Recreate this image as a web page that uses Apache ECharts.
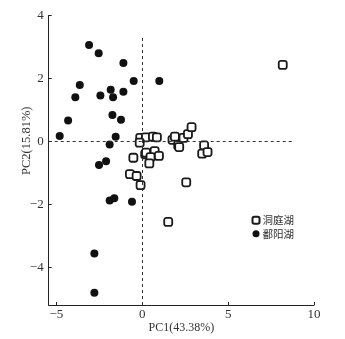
<!DOCTYPE html>
<html>
<head>
<meta charset="utf-8">
<script src="https://cdn.jsdelivr.net/npm/echarts@6/dist/echarts.min.js"></script>
<style>
  html, body { margin: 0; padding: 0; background: #fff; }
  #chart { width: 345px; height: 339px; }
</style>
</head>
<body>
<div id="chart"></div>
<script>
// PCA scores: [PC1, PC2] per sample
const dongtingScores = [
  [8.18, 2.43], [-0.12, 0.11], [0.21, 0.13], [-0.15, -0.04], [0.62, 0.15],
  [0.85, 0.13], [-0.52, -0.52], [0.17, -0.41], [0.22, -0.36], [0.72, -0.31],
  [0.48, -0.50], [0.41, -0.70], [0.97, -0.46], [-0.72, -1.04], [-0.33, -1.10],
  [-0.10, -1.39], [1.76, 0.05], [1.90, 0.15], [2.09, -0.12], [2.15, -0.18],
  [2.40, 0.11], [2.66, 0.23], [2.87, 0.45], [3.60, -0.13], [3.49, -0.39],
  [3.80, -0.34], [2.56, -1.30], [1.51, -2.56]
];
const poyangScores = [
  [-4.81, 0.17], [-4.32, 0.66], [-3.90, 1.40], [-3.64, 1.79], [-3.10, 3.06],
  [-2.54, 2.80], [-2.44, 1.46], [-2.52, -0.75], [-2.11, -0.63], [-1.90, -0.10],
  [-1.84, 1.64], [-1.70, 1.40], [-1.74, 0.84], [-1.55, 0.15], [-1.24, 0.69],
  [-1.10, 2.49], [-1.10, 1.58], [-0.50, 1.92], [0.99, 1.92], [-1.90, -1.88],
  [-1.63, -1.81], [-0.60, -1.92], [-2.79, -3.56], [-2.79, -4.81]
];
const seriesNames = ['洞庭湖', '鄱阳湖'];
const xTicks = [-5, 0, 5, 10];
const yTicks = [-4, -2, 0, 2, 4];
const xRange = [-5.45, 10];
const yRange = [-5.2, 4];
const refLineEnds = { h: 8.8, v: 3.38 };

const serif = 'Liberation Serif';
const minus = v => String(v).replace('-', '\u2212');

const chart = echarts.init(document.getElementById('chart'), null, { renderer: 'canvas' });

const axisCommon = {
  type: 'value',
  axisLine: { show: true, onZero: false, lineStyle: { color: '#222', width: 1 } },
  axisTick: { show: true, inside: true, length: 3, lineStyle: { color: '#222' } },
  splitLine: { show: false },
  nameLocation: 'middle',
  nameMoveOverlap: false,
  nameTextStyle: { fontFamily: serif, fontSize: 12, color: '#333' }
};

chart.setOption({
  animation: false,
  backgroundColor: '#fff',
  grid: { left: 48.7, right: 31, top: 15.5, bottom: 34, containLabel: false },
  xAxis: Object.assign({}, axisCommon, {
    min: xRange[0], max: xRange[1],
    name: 'PC1(43.38%)', nameGap: 17,
    axisTick: Object.assign({}, axisCommon.axisTick, { customValues: xTicks }),
    axisLabel: { customValues: xTicks, formatter: minus, fontFamily: serif, fontSize: 13, color: '#333', margin: 3 }
  }),
  yAxis: Object.assign({}, axisCommon, {
    min: yRange[0], max: yRange[1],
    name: 'PC2(15.81%)', nameGap: 15,
    nameTextStyle: Object.assign({}, axisCommon.nameTextStyle, { fontSize: 12.5, padding: [0, 0, 0, 39] }),
    axisTick: Object.assign({}, axisCommon.axisTick, { customValues: yTicks }),
    axisLabel: { customValues: yTicks, formatter: minus, fontFamily: serif, fontSize: 13, color: '#333', margin: 5 }
  }),
  legend: {
    orient: 'vertical',
    left: 246.5, top: 210,
    itemWidth: 7, itemHeight: 7, itemGap: 3,
    textStyle: { fontFamily: 'Noto Sans CJK SC', fontSize: 10.5, color: '#333', padding: [0, 0, 0, -2] },
    data: seriesNames
  },
  series: [
    {
      name: seriesNames[0],
      type: 'scatter',
      symbol: 'roundRect',
      symbolSize: 8,
      z: 3,
      itemStyle: { color: '#fff', borderColor: '#1a1a1a', borderWidth: 1.8, opacity: 1 },
      data: dongtingScores,
      markLine: {
        silent: true,
        symbol: 'none',
        label: { show: false },
        lineStyle: { color: '#333', type: [3, 3], width: 1 },
        data: [
          [{ coord: [xRange[0], 0] }, { coord: [refLineEnds.h, 0] }],
          [{ coord: [0, yRange[0]] }, { coord: [0, refLineEnds.v] }]
        ]
      }
    },
    {
      name: seriesNames[1],
      type: 'scatter',
      symbol: 'circle',
      symbolSize: 8,
      z: 2,
      itemStyle: { color: '#111', opacity: 1 },
      data: poyangScores
    }
  ]
});
</script>
</body>
</html>
